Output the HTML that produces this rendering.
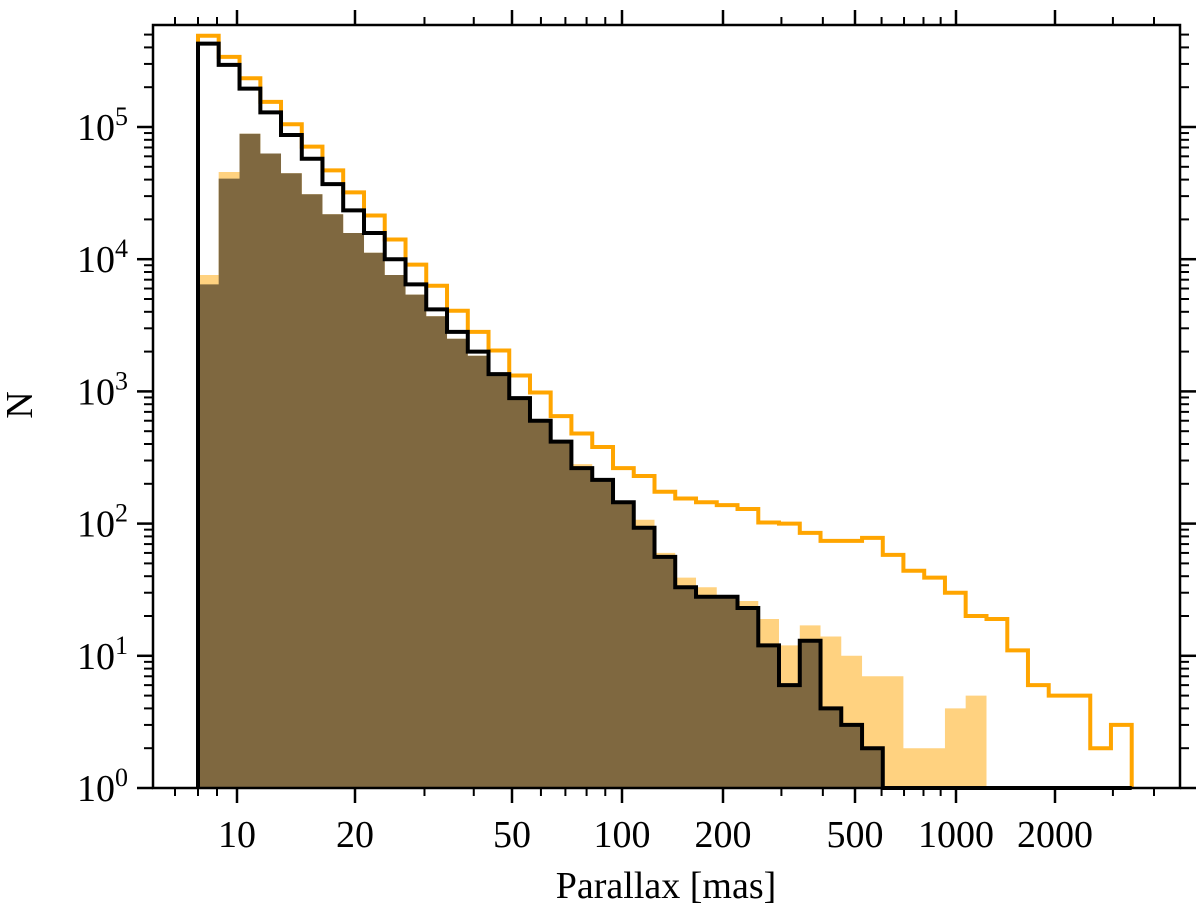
<!DOCTYPE html>
<html><head><meta charset="utf-8"><style>
html,body{margin:0;padding:0;background:#fff;}
svg{display:block;}
text{font-family:"Liberation Serif","DejaVu Serif",serif;fill:#000;}
</style></head><body>
<svg id="chart" width="1200" height="920" viewBox="0 0 1200 920" xmlns="http://www.w3.org/2000/svg">
<g id="marks"></g>
<g id="axes"></g>
<text x="666" y="898" font-size="38" text-anchor="middle">Parallax [mas]</text>
<text x="0" y="0" font-size="38" text-anchor="middle" transform="translate(32,405) rotate(-90)">N</text>
</svg>
<script>
// bin edges (parallax, mas)
const binEdges = [8.0,9.08,10.15,11.47,12.95,14.63,16.52,18.66,21.08,23.79,26.86,30.31,34.22,38.63,43.60,49.20,56.0,63.8,72.7,82.9,94.5,108.4,125.0,144.1,166.2,191.6,221.2,255.5,295.0,340.8,393.6,454.5,524.8,605,697,804,927,1070,1238,1432,1655,1914,2214,2560,2959,3422];
// orange outline series (all)
const countsAll = [490000,339000,234000,155000,105000,71000,47000,32000,21400,14100,9100,6300,4070,2820,2040,1320,980,650,480,380,263,229,174,155,145,138,129,102,100,85,74,74,78,58,44,39,30,20,19,11,6,5,5,2,3];
// black outline series
const countsBlack = [427000,295000,195000,129000,87000,57500,37000,23400,15800,10000,6450,4170,2820,2000,1350,890,600,417,263,214,145,93,56,33,28,28,23,12,6,13,4,3,2,0,0,0,0,0,0,0,0,0,0,0,0];
// light orange filled series
const countsLight = [7600,45700,89000,63000,44700,31000,21900,15800,11200,7600,5400,3700,2500,1860,1350,890,600,417,282,214,145,107,60,39,33,28,26,19,12,17,14,10,7,7,2,2,4,5,0,0,0,0,0,0,0];
// brown filled series
const countsBrown = [6450,40700,89000,63000,44700,31000,21900,15800,11200,7600,5400,3700,2500,1860,1350,890,600,417,263,214,145,93,56,33,28,28,23,12,6,13,4,3,2,0,0,0,0,0,0,0,0,0,0,0,0];
// tick labels
const xTickValues = [10,20,50,100,200,500,1000,2000];
const xTickLabels = ["10","20","50","100","200","500","1000","2000"];
const xMinorValues = [7,8,9,30,40,60,70,80,90,300,400,600,700,800,900,3000,4000];
const yTickExps = [0,1,2,3,4,5];

const NS = "http://www.w3.org/2000/svg";
const L = 153, R = 1180, T = 25, B = 788;
// axis calibration (log-space knots)
const knotV = [7,8,9,10,20,50,100,200,500,1000,2000];
const knotP = [175,198,217,237,355,512,622,723,855,956,1055];
function xScale(v){
  const lv = Math.log10(v);
  const lk = knotV.map(Math.log10);
  if (lv <= lk[0]) return knotP[0] + (lv - lk[0]) * (knotP[1]-knotP[0])/(lk[1]-lk[0]);
  const n = lk.length-1;
  if (lv >= lk[n]) return knotP[n] + (lv - lk[n]) * (knotP[n]-knotP[n-1])/(lk[n]-lk[n-1]);
  for (let i=0;i<n;i++){
    if (lv <= lk[i+1]) return knotP[i] + (lv-lk[i])*(knotP[i+1]-knotP[i])/(lk[i+1]-lk[i]);
  }
}
const decade = (B - 127) / 5;
function yScale(v){ if (v <= 1) return B; return B - Math.log10(v) * decade; }

function mk(tag, attrs, parent){
  const el = document.createElementNS(NS, tag);
  for (const k in attrs) el.setAttribute(k, attrs[k]);
  parent.appendChild(el);
  return el;
}
const marks = document.getElementById('marks');
const axes = document.getElementById('axes');

function stepPath(counts){
  let d = "M" + xScale(binEdges[0]).toFixed(2) + "," + B;
  for (let i=0;i<counts.length;i++){
    const y = yScale(counts[i]).toFixed(2);
    d += " L" + xScale(binEdges[i]).toFixed(2) + "," + y + " L" + xScale(binEdges[i+1]).toFixed(2) + "," + y;
  }
  d += " L" + xScale(binEdges[counts.length]).toFixed(2) + "," + B;
  return d;
}

const light = mk('path', {d: stepPath(countsLight) + " Z", fill:"#ffd280", stroke:"none"}, marks);


const brown = mk('path', {d: stepPath(countsBrown) + " Z", fill:"#7f6840", stroke:"none"}, marks);


const orange = mk('path', {d: stepPath(countsAll), fill:"none", stroke:"#ffa500", "stroke-width":"4", "stroke-linejoin":"miter"}, marks);


const black = mk('path', {d: stepPath(countsBlack), fill:"none", stroke:"#000", "stroke-width":"4", "stroke-linejoin":"miter"}, marks);



// frame
const frame = mk('rect', {x:L, y:T, width:R-L, height:B-T, fill:"none", stroke:"#000", "stroke-width":"2.5"}, axes);



// x ticks
xTickValues.forEach((v,i)=>{
  const x = xScale(v);
  const t1 = mk('line', {x1:x, x2:x, y1:B, y2:B+15, stroke:"#000", "stroke-width":"2.5"}, axes);
  
  
  const t2 = mk('line', {x1:x, x2:x, y1:T, y2:T-15, stroke:"#000", "stroke-width":"2.5"}, axes);
  
  
  const lab = mk('text', {x:x, y:847, "font-size":"38", "text-anchor":"middle"}, axes);
  lab.textContent = xTickLabels[i];
  
  
});
xMinorValues.forEach(v=>{
  const x = xScale(v);
  if (x <= L || x >= R) return;
  const t1 = mk('line', {x1:x, x2:x, y1:B, y2:B+8, stroke:"#000", "stroke-width":"2"}, axes);
  
  
  const t2 = mk('line', {x1:x, x2:x, y1:T, y2:T-8, stroke:"#000", "stroke-width":"2"}, axes);
  
  
});
// y ticks
yTickExps.forEach(e=>{
  const y = yScale(Math.pow(10,e));
  const a = mk('line', {x1:L, x2:L-16, y1:y, y2:y, stroke:"#000", "stroke-width":"2.5"}, axes);
  
  
  const b = mk('line', {x1:R, x2:R+16, y1:y, y2:y, stroke:"#000", "stroke-width":"2.5"}, axes);
  
  
  const lab = mk('text', {x:128, y:y+13, "font-size":"38", "text-anchor":"end"}, axes);
  
  
  lab.appendChild(document.createTextNode("10"));
  const sup = mk('tspan', {dy:"-15", "font-size":"26"}, lab);
  sup.textContent = String(e);
  for (let m=2;m<=9;m++){
    const ym = yScale(m*Math.pow(10,e));
    if (ym < T) continue;
    const c = mk('line', {x1:L, x2:L-9, y1:ym, y2:ym, stroke:"#000", "stroke-width":"2"}, axes);
    
    
    const d = mk('line', {x1:R, x2:R+9, y1:ym, y2:ym, stroke:"#000", "stroke-width":"2"}, axes);
    
    
  }
});
</script>
</body></html>
